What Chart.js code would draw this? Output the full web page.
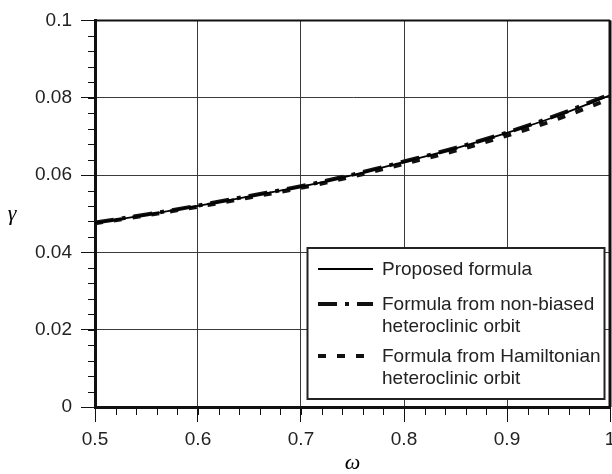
<!DOCTYPE html>
<html>
<head>
<meta charset="utf-8">
<script src="https://cdn.jsdelivr.net/npm/chart.js@4.4.1/dist/chart.umd.min.js"></script>
<style>
  html, body { margin: 0; padding: 0; background: #fff; overflow: hidden; }
</style>
</head>
<body>
<canvas id="chartGamma" width="612" height="474"></canvas>
<script>
// omega samples and the three gamma curves
const omega = [0.5, 0.55, 0.6, 0.65, 0.7, 0.75, 0.8, 0.85, 0.9, 0.95, 1.0];
const gammaProposed    = [0.0476, 0.0497, 0.0520, 0.0545, 0.0570, 0.0600, 0.0634, 0.0669, 0.0709, 0.0754, 0.0806];
const gammaNonBiased   = [0.0477, 0.0498, 0.0521, 0.0546, 0.0571, 0.0601, 0.0635, 0.0670, 0.0710, 0.0756, 0.0809];
const gammaHamiltonian = [0.0475, 0.0496, 0.0518, 0.0542, 0.0567, 0.0596, 0.0629, 0.0663, 0.0702, 0.0746, 0.0797];

const xTicks = [0.5, 0.6, 0.7, 0.8, 0.9, 1];
const yTicks = [0, 0.02, 0.04, 0.06, 0.08, 0.1];

const FONT = '"Liberation Sans", Arial, Helvetica, sans-serif';
const SERIF = '"Liberation Serif", "Times New Roman", serif';

const toPoints = ys => omega.map((x, i) => ({ x: x, y: ys[i] }));

// minor ticks, frame, gamma label and boxed legend
const decorations = {
    id: 'decorations',
    afterDraw(chart) {
        const ctx = chart.ctx;
        const a = chart.chartArea;
        const sx = chart.scales.x, sy = chart.scales.y;
        ctx.save();

        // minor ticks
        ctx.strokeStyle = '#111';
        ctx.lineWidth = 1;
        ctx.beginPath();
        for (let v = 0; v <= 0.1001; v += 0.004) {
            const py = Math.round(sy.getPixelForValue(v)) + 0.5;
            ctx.moveTo(a.left - 7, py);
            ctx.lineTo(a.left, py);
        }
        for (let v = 0.5; v <= 1.0001; v += 0.02) {
            const px = Math.round(sx.getPixelForValue(v)) + 0.5;
            ctx.moveTo(px, a.bottom);
            ctx.lineTo(px, a.bottom + 8);
        }
        ctx.stroke();

        // frame
        ctx.strokeStyle = '#111';
        ctx.lineWidth = 2;
        ctx.beginPath();
        ctx.moveTo(a.left, a.top);
        ctx.lineTo(a.right, a.top);
        ctx.stroke();
        ctx.lineWidth = 3;
        ctx.beginPath();
        ctx.moveTo(a.right, a.top);
        ctx.lineTo(a.right, a.bottom);
        ctx.stroke();

        // gamma label
        ctx.fillStyle = '#000';
        ctx.font = 'italic 22px ' + SERIF;
        ctx.textAlign = 'center';
        ctx.textBaseline = 'middle';
        ctx.fillText('\u03b3', 12, 214);

        // legend
        const bx = 307.5, by = 248, bw = 297, bh = 151;
        ctx.fillStyle = '#fff';
        ctx.fillRect(bx, by, bw, bh);
        ctx.strokeStyle = '#222';
        ctx.lineWidth = 2;
        ctx.strokeRect(bx, by, bw, bh);

        const rows = [269, 304, 356];
        ctx.font = '19px ' + FONT;
        ctx.textAlign = 'left';
        chart.data.datasets.forEach((ds, i) => {
            const y = rows[i];
            ctx.strokeStyle = ds.borderColor;
            ctx.lineWidth = ds.borderWidth;
            ctx.setLineDash(ds.legendDash || []);
            ctx.beginPath();
            ctx.moveTo(318, y);
            ctx.lineTo(373, y);
            ctx.stroke();
            ctx.setLineDash([]);
            ctx.fillStyle = '#222';
            const lines = Array.isArray(ds.label) ? ds.label : [ds.label];
            lines.forEach((t, j) => ctx.fillText(t, 382, y + 1 + j * 22));
        });
        ctx.restore();
    }
};

new Chart(document.getElementById('chartGamma'), {
    type: 'line',
    data: {
        datasets: [
            {
                label: 'Proposed formula',
                data: toPoints(gammaProposed),
                borderColor: '#000',
                borderWidth: 1.8,
                legendDash: []
            },
            {
                label: ['Formula from non-biased', 'heteroclinic orbit'],
                data: toPoints(gammaNonBiased),
                borderColor: '#111',
                borderWidth: 4,
                borderDash: [19, 8, 4, 8],
                legendDash: [19, 8, 4, 8]
            },
            {
                label: ['Formula from Hamiltonian', 'heteroclinic orbit'],
                data: toPoints(gammaHamiltonian),
                borderColor: '#111',
                borderWidth: 4,
                borderDash: [8, 11],
                legendDash: [8, 11]
            }
        ]
    },
    options: {
        responsive: false,
        animation: false,
        events: [],
        elements: {
            point: { radius: 0 },
            line: { tension: 0.4, cubicInterpolationMode: 'monotone', borderCapStyle: 'butt' }
        },
        layout: { padding: { left: 0, right: 2, top: 20, bottom: 0 } },
        plugins: {
            legend: { display: false },
            tooltip: { enabled: false }
        },
        scales: {
            x: {
                type: 'linear',
                min: 0.5,
                max: 1,
                afterBuildTicks: s => { s.ticks = xTicks.map(v => ({ value: v })); },
                afterFit: s => { s.height = 67; s.paddingLeft = 0; s.paddingRight = 0; },
                ticks: {
                    callback: v => String(v),
                    color: '#222',
                    font: { family: FONT, size: 19 },
                    padding: 6,
                    maxRotation: 0,
                    autoSkip: false
                },
                grid: { color: '#3a3a3a', lineWidth: 1, tickLength: 15, tickColor: '#111' },
                border: { display: true, color: '#111', width: 3 },
                title: {
                    display: true,
                    text: '\u03c9',
                    color: '#000',
                    font: { family: SERIF, size: 22, style: 'italic', lineHeight: 1 },
                    padding: 0
                }
            },
            y: {
                type: 'linear',
                min: 0,
                max: 0.1,
                afterBuildTicks: s => { s.ticks = yTicks.map(v => ({ value: v })); },
                afterFit: s => { s.width = 95; },
                ticks: {
                    callback: v => String(v),
                    color: '#222',
                    font: { family: FONT, size: 19 },
                    padding: 9,
                    autoSkip: false
                },
                grid: { color: '#3a3a3a', lineWidth: 1, tickLength: 14, tickColor: '#111' },
                border: { display: true, color: '#111', width: 3 }
            }
        }
    },
    plugins: [decorations]
});
</script>
</body>
</html>
